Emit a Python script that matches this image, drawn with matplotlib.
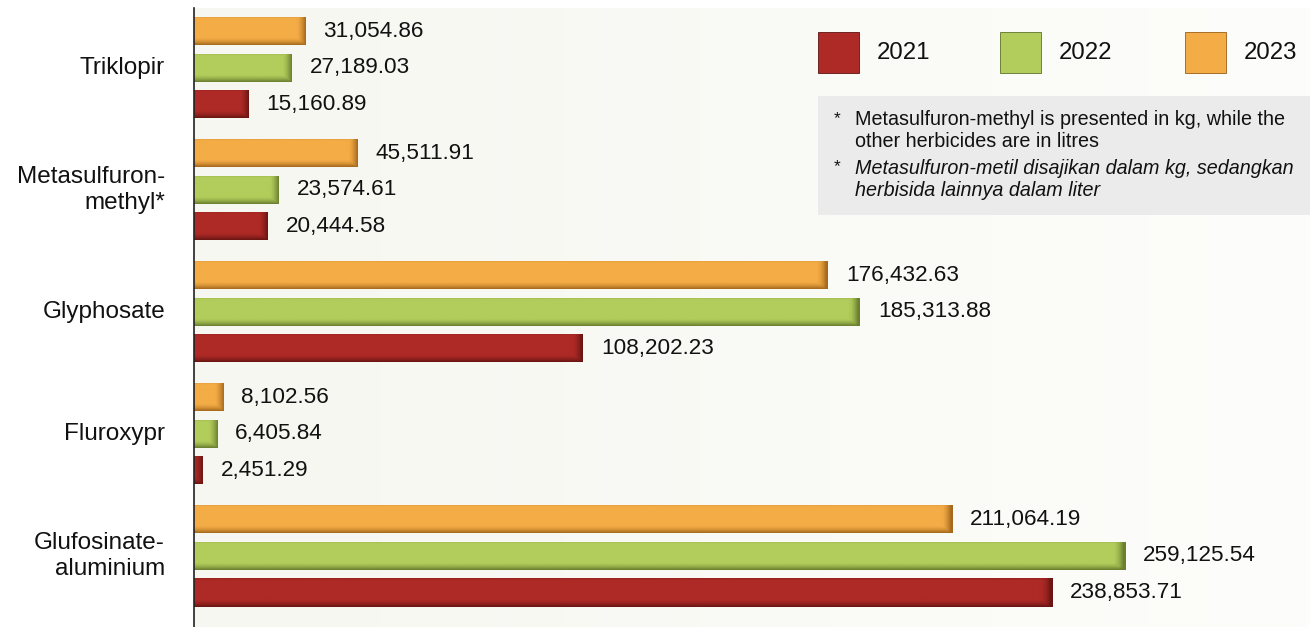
"""Herbicide usage by year, horizontal grouped bars."""

import numpy as np
import matplotlib
import matplotlib.pyplot as plt
from matplotlib.colors import to_rgb
from matplotlib.patches import Rectangle

matplotlib.use("Agg")

plt.rcParams["font.family"] = ["Liberation Sans", "DejaVu Sans"]

# Data (top to bottom)
categories = ["Triklopir", "Metasulfuron-\nmethyl*", "Glyphosate", "Fluroxypr", "Glufosinate-\naluminium"]
years = ["2021", "2022", "2023"]
values_2021 = [15160.89, 20444.58, 108202.23, 2451.29, 238853.71]
values_2022 = [27189.03, 23574.61, 185313.88, 6405.84, 259125.54]
values_2023 = [31054.86, 45511.91, 176432.63, 8102.56, 211064.19]

COLORS = {"2021": "#ae2a26", "2022": "#b2cd5b", "2023": "#f4ac46"}
DARK = {"2021": "#5e1210", "2022": "#5f7228", "2023": "#9a5f16"}

W, H, DPI = 1310, 627, 100
fig = plt.figure(figsize=(W / DPI, H / DPI), dpi=DPI)
fig.patch.set_facecolor("white")

ax_left, ax_top = 194, 8
ax = fig.add_axes([ax_left / W, 0, (W - ax_left) / W, (H - ax_top) / H])
XMAX = 310600
Y_TOP, Y_BOT = -0.49, 4.583
ax.set_xlim(0, XMAX)
ax.set_ylim(Y_BOT, Y_TOP)
ax.set_facecolor("none")

# soft background gradient
bg = np.linspace(0, 1, 256)[None, :, None]
c0 = np.array(to_rgb("#f6f7f0"))
c1 = np.array(to_rgb("#fdfdfb"))
ax.imshow(c0 + (c1 - c0) * bg, extent=[0, XMAX, Y_BOT, Y_TOP], aspect="auto", zorder=0)

for s in ["top", "right", "bottom"]:
    ax.spines[s].set_visible(False)
ax.spines["left"].set_color("#222222")
ax.spines["left"].set_linewidth(1.2)
ax.set_xticks([])
ax.set_yticks([])

px_x = XMAX / (W - ax_left)             # data units per pixel, x
px_y = (Y_BOT - Y_TOP) / (H - ax_top)   # data units per pixel, y

y = np.arange(len(categories))
offsets = {"2023": -0.3, "2022": 0.0, "2021": 0.3}
series = {"2021": values_2021, "2022": values_2022, "2023": values_2023}
bar_h = 0.23


def shaded_bar(patch, base, dark):
    x0, y0 = patch.get_x(), patch.get_y()
    w, h = patch.get_width(), patch.get_height()
    nx, ny = 200, 40
    xs = np.linspace(0, w, nx)
    ys = np.linspace(0, h, ny)
    edge_w = 9 * px_x
    right = np.clip((xs - (w - edge_w)) / edge_w, 0, 1) ** 1.5
    bottom = np.clip((ys - (h - 7 * px_y)) / (7 * px_y), 0, 1) ** 1.5
    top = np.clip((2 * px_y - ys) / (2 * px_y), 0, 1) * 0.3
    shade = np.maximum(right[None, :], np.maximum(bottom, top)[:, None]) * 0.85
    b = np.array(to_rgb(base))
    d = np.array(to_rgb(dark))
    img = b + (d - b) * shade[:, :, None]
    im = ax.imshow(img, extent=[x0, x0 + w, y0 + h, y0], aspect="auto",
                   interpolation="bilinear", zorder=2)
    im.set_clip_path(patch)


for yr in years:
    bars = ax.barh(y + offsets[yr], series[yr], height=bar_h, color=COLORS[yr],
                   edgecolor="none", zorder=1)
    for patch, v in zip(bars, series[yr]):
        shaded_bar(patch, COLORS[yr], DARK[yr])
        ax.text(v + 18 * px_x, patch.get_y() + bar_h / 2, f"{v:,.2f}",
                va="center", ha="left", fontsize=16.2, color="#111111", zorder=3)

# category labels
for yi, cat in zip(y, categories):
    ax.text(-29 * px_x, yi, cat, ha="right", va="center", fontsize=17.5,
            color="#111111", linespacing=1.25, clip_on=False)

# legend
leg_x = [818, 1000, 1185]
for yr, lx in zip(years, leg_x):
    fig.add_artist(Rectangle((lx / W, 1 - 73 / H), 41 / W, 41 / H,
                             transform=fig.transFigure, facecolor=COLORS[yr],
                             edgecolor=DARK[yr], linewidth=0.6))
    fig.text((lx + 59) / W, 1 - 53 / H, yr, ha="left", va="center",
             fontsize=17.3, color="#111111")

# note box
fig.add_artist(Rectangle((818 / W, 1 - 215 / H), (W - 818) / W, 119 / H,
                         transform=fig.transFigure, facecolor="#ebebeb",
                         edgecolor="none"))
notes = [
    ("Metasulfuron-methyl is presented in kg, while the\nother herbicides are in litres", "normal", 131),
    ("Metasulfuron-metil disajikan dalam kg, sedangkan\nherbisida lainnya dalam liter", "italic", 179),
]
for txt, style, cy in notes:
    fig.text(834 / W, 1 - (cy - 12) / H, "*", ha="left", va="center",
             fontsize=12.5, color="#111111")
    fig.text(855 / W, 1 - cy / H, txt, ha="left", va="center", fontsize=14.2,
             style=style, color="#111111", linespacing=1.2)

fig.savefig("out.png", dpi=DPI, facecolor="white")
plt.close(fig)
